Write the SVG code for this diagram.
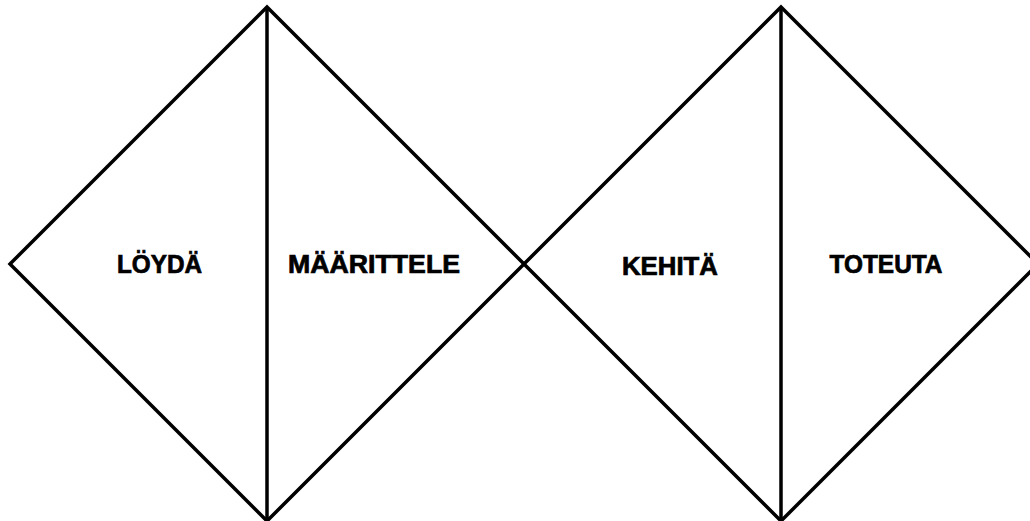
<svg xmlns="http://www.w3.org/2000/svg" width="1030" height="521" viewBox="0 0 1030 521">
<style>
.shape{fill:none;stroke:#000;stroke-width:3.5;stroke-linejoin:miter}
.lbl{font-family:"Liberation Sans",Arial,sans-serif;font-weight:bold;font-size:25px;fill:#000;stroke:#000;stroke-width:0.7;text-anchor:middle}
</style>
<rect width="1030" height="521" fill="#fff"/>
<g id="diamond-left">
<polygon class="shape" points="10,264 267,7 524,264 267,521"/>
<line class="shape" x1="267" y1="7" x2="267" y2="521"/>
</g>
<g id="diamond-right">
<polygon class="shape" points="524,264 781,7 1038,264 781,521"/>
<line class="shape" x1="781" y1="7" x2="781" y2="521"/>
</g>
<g id="node-loyda"><text class="lbl" x="159.5" y="273" textLength="85" lengthAdjust="spacingAndGlyphs">LÖYDÄ</text></g>
<g id="node-maarittele"><text class="lbl" x="374" y="273" textLength="172" lengthAdjust="spacingAndGlyphs">MÄÄRITTELE</text></g>
<g id="node-kehita"><text class="lbl" x="670" y="275" textLength="96" lengthAdjust="spacingAndGlyphs">KEHITÄ</text></g>
<g id="node-toteuta"><text class="lbl" x="886" y="273" textLength="113" lengthAdjust="spacingAndGlyphs">TOTEUTA</text></g>
</svg>
